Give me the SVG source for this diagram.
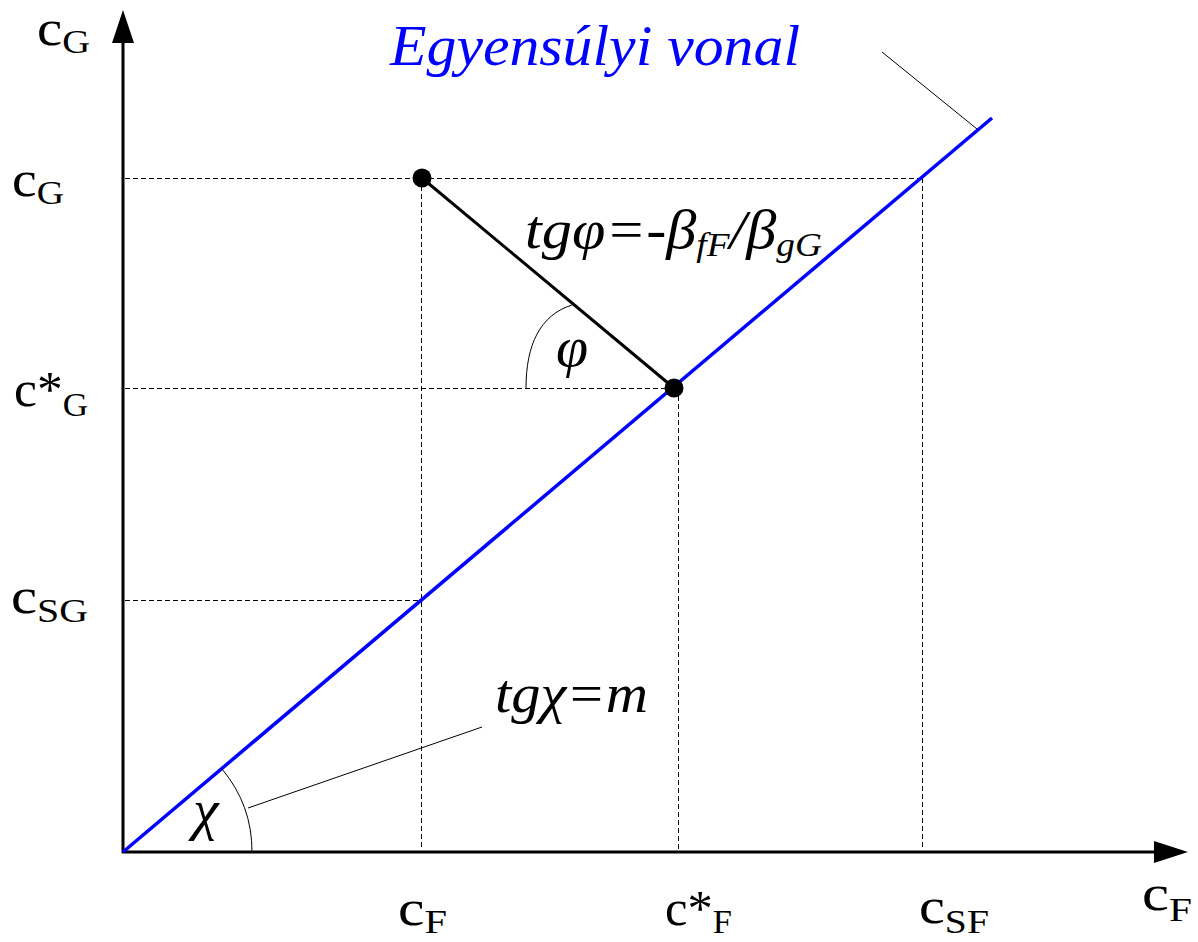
<svg xmlns="http://www.w3.org/2000/svg" width="1198" height="942" viewBox="0 0 1198 942">
<style>
text{font-family:"Liberation Serif","Times New Roman",serif;fill:#000}
.lbl{font-size:50px}
.sub{font-size:34px}
.it{font-style:italic}
.dash{stroke:#000;stroke-width:1;stroke-dasharray:5,3;fill:none}
.thin{stroke:#000;stroke-width:1;fill:none}
.axis{stroke:#000;stroke-width:3;fill:none}
</style>
<rect width="1198" height="942" fill="#fff"/>
<g id="guides">
<line class="dash" x1="125" y1="178.5" x2="922" y2="178.5"/>
<line class="dash" x1="922.5" y1="178" x2="922.5" y2="850"/>
<line class="dash" x1="125" y1="388.5" x2="675" y2="388.5"/>
<line class="dash" x1="678.5" y1="388" x2="678.5" y2="850"/>
<line class="dash" x1="125" y1="600.5" x2="421" y2="600.5"/>
<line class="dash" x1="421.5" y1="178" x2="421.5" y2="850"/>
</g>
<g id="axes">
<line class="axis" x1="123" y1="853" x2="123" y2="40"/>
<polygon points="123,10 112,43 134,43" fill="#000"/>
<line class="axis" x1="122" y1="852" x2="1156" y2="852"/>
<polygon points="1188,852 1154,841 1154,863" fill="#000"/>
</g>
<g id="connectors">
<line x1="123" y1="852" x2="992" y2="118" stroke="#0000ff" stroke-width="3.5"/>
<line x1="422" y1="178" x2="674" y2="388" stroke="#000" stroke-width="3"/>
<line class="thin" x1="882" y1="52" x2="977" y2="129"/>
<line class="thin" x1="248" y1="808" x2="482" y2="727"/>
<path class="thin" d="M526,388 C526,345 540,315 572,305"/>
<path class="thin" d="M222,769 A129,129 0 0 1 252,852"/>
</g>
<g id="point-operating">
<circle cx="422" cy="178" r="9.5" fill="#000"/>
</g>
<g id="point-equilibrium">
<circle cx="674" cy="388" r="9.5" fill="#000"/>
</g>
<g id="labels">
<text class="lbl" x="37" y="45" textLength="53" lengthAdjust="spacingAndGlyphs">c<tspan class="sub" dy="8">G</tspan></text>
<text class="lbl" x="12" y="196" textLength="52" lengthAdjust="spacingAndGlyphs">c<tspan class="sub" dy="8">G</tspan></text>
<text class="lbl" x="14" y="406" textLength="74" lengthAdjust="spacingAndGlyphs">c*<tspan class="sub" dy="10">G</tspan></text>
<text class="lbl" x="11" y="613" textLength="77" lengthAdjust="spacingAndGlyphs">c<tspan class="sub" dy="9">SG</tspan></text>
<text class="lbl" x="398" y="925" textLength="49" lengthAdjust="spacingAndGlyphs">c<tspan class="sub" dy="8">F</tspan></text>
<text class="lbl" x="665" y="925" textLength="67" lengthAdjust="spacingAndGlyphs">c*<tspan class="sub" dy="8">F</tspan></text>
<text class="lbl" x="919" y="923" textLength="70" lengthAdjust="spacingAndGlyphs">c<tspan class="sub" dy="10">SF</tspan></text>
<text class="lbl" x="1142" y="910" textLength="50" lengthAdjust="spacingAndGlyphs">c<tspan class="sub" dy="11">F</tspan></text>
<text class="it" x="390" y="65" font-size="58" style="fill:#0000ff" textLength="410" lengthAdjust="spacingAndGlyphs">Egyensúlyi vonal</text>
<text class="it" x="525" y="248" font-size="55" textLength="297" lengthAdjust="spacingAndGlyphs">tgφ=-β<tspan font-size="34" dy="8">fF</tspan><tspan dy="-8">/β</tspan><tspan font-size="34" dy="8">gG</tspan></text>
<text class="it" x="556" y="366" font-size="58">φ</text>
<text class="it" x="193" y="829" font-size="58">χ</text>
<text class="it" x="495" y="712" font-size="54" textLength="153" lengthAdjust="spacingAndGlyphs">tgχ=m</text>
</g>
</svg>
